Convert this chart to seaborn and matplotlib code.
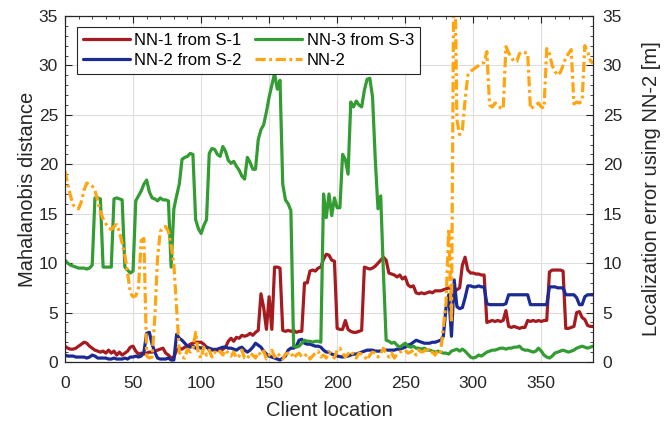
import matplotlib
matplotlib.use("Agg")
import matplotlib.pyplot as plt
import seaborn as sns
import pandas as pd
from matplotlib.lines import Line2D
from matplotlib.ticker import MultipleLocator

# ---------------- data ----------------
client_location = list(range(0, 389, 2))

nn1_from_s1 = [
    1.6, 1.4, 1.3, 1.3, 1.4, 1.6, 1.8, 2.0, 1.9, 1.6,
    1.4, 1.2, 1.1, 1.0, 1.1, 0.9, 1.2, 0.9, 1.1, 0.7,
    1.0, 0.7, 0.9, 1.1, 1.5, 1.6, 1.1, 0.8, 0.9, 0.8,
    0.9, 1.0, 1.0, 1.1, 1.2, 1.3, 1.4, 0.9, 0.7, 0.4,
    0.5, 1.2, 1.4, 1.3, 1.5, 1.6, 1.8, 1.9, 2.0, 2.0,
    2.0, 1.8, 1.5, 1.3, 1.2, 1.3, 1.2, 1.1, 1.3, 1.5,
    2.1, 2.4, 2.1, 2.5, 2.4, 2.7, 2.6, 2.7, 2.9, 2.7,
    3.0, 3.2, 6.9, 5.5, 3.3, 6.6, 3.3, 9.6, 9.6, 9.5,
    3.2, 3.1, 3.2, 3.1, 3.2, 3.0, 3.1, 3.1, 8.0, 8.0,
    9.2, 9.3, 9.2, 9.5, 9.6, 10.4, 10.9, 10.8, 10.3, 10.2,
    3.4, 3.3, 3.3, 4.2, 3.3, 3.1, 3.0, 3.0, 3.1, 3.2,
    9.6, 9.5, 9.4, 9.5, 9.7, 10.0, 10.3, 10.6, 10.3, 9.0,
    8.9, 8.8, 8.6, 8.8, 8.4, 8.6, 7.8, 7.6, 7.7, 7.0,
    6.9, 7.0, 6.9, 7.0, 7.1, 7.0, 7.2, 7.2, 7.2, 7.3,
    7.4, 7.5, 7.4, 7.3, 7.3, 7.5, 9.8, 10.6, 9.3, 9.0,
    9.0, 8.9, 8.9, 8.8, 8.8, 4.0, 4.1, 4.2, 4.1, 4.2,
    4.1, 4.2, 5.2, 3.6, 3.5, 3.6, 3.5, 3.4, 3.5, 3.5,
    4.2, 4.1, 4.2, 4.1, 4.2, 4.1, 4.2, 4.2, 9.1, 9.3,
    9.3, 9.3, 9.3, 9.2, 3.4, 3.4, 3.5, 3.6, 5.0, 5.1,
    4.5, 4.3, 3.7, 3.6, 3.6,
]

nn2_from_s2 = [
    0.7, 0.6, 0.6, 0.6, 0.5, 0.5, 0.5, 0.5, 0.4, 0.5,
    0.7, 0.6, 0.4, 0.4, 0.4, 0.4, 0.3, 0.3, 0.4, 0.3,
    0.3, 0.3, 0.4, 0.3, 0.5, 0.5, 0.6, 0.5, 0.6, 1.0,
    2.9, 3.0, 1.8, 1.0, 0.4, 0.3, 0.3, 0.3, 0.4, 0.2,
    0.2, 2.8, 2.4, 2.2, 1.9, 1.6, 1.5, 1.6, 1.4, 1.5,
    1.4, 1.5, 1.5, 1.4, 1.3, 1.2, 1.3, 1.4, 1.5, 1.5,
    1.4, 1.4, 1.3, 1.2, 1.4, 1.5, 1.2, 1.0, 1.2, 1.5,
    1.9, 1.7, 1.5, 1.1, 0.8, 0.6, 0.5, 0.4, 0.3, 0.2,
    0.4, 0.6, 1.2, 1.4, 1.4, 1.6, 2.2, 2.3, 1.9, 1.8,
    1.8, 1.7, 1.6, 1.6, 1.5, 1.2, 1.0, 1.0, 0.8, 0.7,
    0.6, 0.55, 0.5, 0.55, 0.6, 0.7, 0.8, 0.8, 0.9, 1.0,
    1.1, 1.2, 1.2, 1.2, 1.1, 1.1, 1.1, 1.2, 1.2, 1.2,
    1.2, 1.2, 1.3, 1.3, 1.4, 1.5, 1.7, 1.8, 2.0, 2.2,
    2.1, 2.0, 1.9, 1.9, 1.9, 2.0, 2.0, 2.1, 2.2, 2.6,
    5.5, 6.8, 2.6, 8.3, 5.6, 5.4, 5.5, 6.5, 7.7, 7.7,
    7.6, 7.6, 7.7, 7.6, 7.6, 5.9, 5.8, 5.8, 5.8, 5.8,
    5.8, 5.8, 5.9, 6.8, 6.8, 6.8, 6.8, 6.8, 6.8, 6.8,
    6.8, 5.8, 5.8, 5.8, 5.8, 5.8, 5.8, 5.8, 7.6, 7.6,
    7.6, 7.5, 7.5, 7.5, 6.8, 6.8, 6.8, 6.8, 6.5, 5.8,
    5.8, 6.6, 6.8, 6.8, 6.8,
]

nn3_from_s3 = [
    10.3, 10.0, 9.8, 9.7, 9.6, 9.5, 9.5, 9.5, 9.4, 9.5,
    9.8, 16.6, 16.6, 16.5, 9.6, 9.6, 9.6, 9.6, 16.5, 16.6,
    16.5, 16.4, 9.6, 9.3, 9.0, 9.2, 16.3, 16.8, 17.3, 18.0,
    18.4, 17.2, 16.6, 16.5, 16.3, 16.6, 16.4, 16.4, 16.3, 9.6,
    15.5, 16.8, 18.0, 20.5, 20.7, 20.8, 21.1, 21.0, 14.4, 13.5,
    13.0, 13.8, 14.4, 21.1, 21.6, 21.5, 21.0, 20.8, 21.8, 21.3,
    20.4, 20.1, 20.3, 19.8, 19.4, 18.8, 18.5, 20.7, 20.2, 19.5,
    19.5, 22.5, 23.5, 24.0, 25.3, 26.8, 28.0, 29.2, 27.6, 28.5,
    18.0, 16.4, 16.0, 15.3, 1.6, 1.5, 1.6, 1.9, 2.2, 2.1,
    2.1, 2.0, 2.1, 2.1, 2.0, 17.0, 14.6, 17.0, 14.8, 16.6,
    15.6, 15.6, 21.0, 20.5, 19.0, 26.3, 25.8, 26.4, 26.0, 25.8,
    27.5, 28.6, 28.7, 26.8, 20.5, 15.5, 16.8, 9.0, 2.2, 2.1,
    1.9, 2.0, 1.7, 1.5, 1.7, 1.9, 1.6, 1.5, 1.6, 1.4,
    1.4, 1.3, 1.4, 1.2, 1.2, 1.1, 1.0, 1.1, 1.0, 0.9,
    0.9, 0.8, 1.1, 1.2, 1.3, 1.1, 1.3, 1.1, 0.8, 0.5,
    0.4, 0.5, 0.7, 0.6, 0.8, 1.0, 1.1, 1.2, 1.2, 1.3,
    1.4, 1.4, 1.3, 1.4, 1.4, 1.5, 1.5, 1.6, 1.3, 1.2,
    1.2, 1.1, 1.0, 1.1, 1.4, 1.1, 0.7, 0.5, 0.4, 0.6,
    0.9, 1.0, 1.1, 1.2, 1.1, 1.0, 1.1, 1.2, 1.4, 1.5,
    1.6, 1.5, 1.4, 1.5, 1.6,
]

nn2_error = [
    19.3, 18.0, 16.8, 15.9, 15.6, 15.5, 16.2, 17.4, 18.1, 18.0,
    17.8, 17.4, 16.3, 15.2, 14.5, 14.0, 13.6, 13.4, 13.7, 13.9,
    13.2, 12.0, 10.8, 9.0, 7.0, 6.6, 6.7, 7.5, 12.3, 12.5,
    0.6, 0.4, 0.5, 4.5, 10.5, 13.2, 13.6, 13.7, 13.2, 11.8,
    9.8, 5.5, 1.0, 0.5, 0.4, 1.3, 1.0, 1.4, 3.0, 0.8,
    0.4, 1.5, 0.7, 1.2, 0.5, 1.0, 0.8, 1.1, 0.7, 1.2,
    0.9, 0.6, 1.0, 0.4, 0.6, 1.2, 0.4, 0.3, 0.9, 0.7,
    0.4, 1.0, 0.7, 1.1, 0.3, 0.7, 1.2, 0.5, 0.9, 0.6,
    0.3, 0.8, 0.9, 1.0, 0.4, 0.7, 0.9, 0.5, 0.6, 0.8,
    0.3, 0.6, 0.9, 1.1, 0.5, 0.7, 0.4, 1.0, 0.8, 0.4,
    1.2, 1.4, 0.9, 0.5, 0.8, 1.1, 0.7, 0.4, 0.9, 0.8,
    0.6, 0.2, 0.7, 1.0, 0.9, 0.5, 0.8, 1.4, 0.9, 0.5,
    0.9, 0.4, 0.8, 1.0, 1.1, 1.2, 0.9, 1.0, 1.2, 0.7,
    1.2, 1.0, 1.1, 1.5, 0.9, 1.0, 0.7, 1.2, 1.0, 3.5,
    6.0, 13.5, 4.0, 45.0, 24.5, 23.0, 23.5, 26.5, 29.0, 29.4,
    29.6, 29.8, 30.0, 30.2, 30.3, 31.4, 26.0, 25.8, 26.2, 26.0,
    25.7, 25.6, 31.9, 31.3, 30.8, 30.4, 30.4, 31.2, 31.4, 31.3,
    31.2, 25.6, 25.8, 26.0, 26.2, 25.8, 25.7, 31.7, 31.2, 30.0,
    29.4, 29.0, 29.3, 30.0, 30.8, 31.2, 31.6, 26.1, 26.3, 26.2,
    26.4, 32.0, 31.4, 30.5, 30.2,
]

series_names = ["NN-1 from S-1", "NN-2 from S-2", "NN-3 from S-3"]
error_name = "NN-2"
x_ticks = [0, 50, 100, 150, 200, 250, 300, 350]
y_ticks = [0, 5, 10, 15, 20, 25, 30, 35]

RED = "#A51B1F"
BLUE = "#1C2A93"
GREEN = "#339C33"
ORANGE = "#FFA511"
TXT = "#262626"
LW = 2.3

# ---------------- style ----------------
sns.set_theme(style="white")
plt.rcParams["font.family"] = ["Liberation Sans", "DejaVu Sans"]
plt.rcParams["axes.edgecolor"] = TXT
plt.rcParams["axes.linewidth"] = 0.8

df = pd.DataFrame({
    "Client location": client_location * 3,
    "value": nn1_from_s1 + nn2_from_s2 + nn3_from_s3,
    "series": ([series_names[0]] * len(client_location)
               + [series_names[1]] * len(client_location)
               + [series_names[2]] * len(client_location)),
})

fig, ax = plt.subplots(figsize=(6.72, 4.22), dpi=100)
fig.subplots_adjust(left=65 / 672, right=593 / 672,
                    bottom=1 - 362 / 422, top=1 - 16 / 422)

sns.lineplot(data=df, x="Client location", y="value", hue="series",
             hue_order=series_names,
             palette={series_names[0]: RED, series_names[1]: BLUE,
                      series_names[2]: GREEN},
             linewidth=LW, estimator=None, errorbar=None,
             legend=False, ax=ax)

ax2 = ax.twinx()
sns.lineplot(x=client_location, y=nn2_error, color=ORANGE, linewidth=LW,
             estimator=None, errorbar=None, ax=ax2)
DASH = [3.2, 1.1, 0.9, 1.1]
for ln in ax2.lines:
    ln.set_dashes(DASH)

for a in (ax, ax2):
    a.set_xlim(0, 388)
    a.set_ylim(0, 35)
    a.set_yticks(y_ticks)
    a.yaxis.set_minor_locator(MultipleLocator(1))

ax.set_xticks(x_ticks)
ax.xaxis.set_minor_locator(MultipleLocator(10))
ax.grid(True, which="major", color="#dedede", linewidth=0.8)
ax.set_axisbelow(True)

ax.tick_params(axis="both", which="both", direction="in", top=True,
               right=False, colors=TXT, labelcolor=TXT, labelsize=12.5)
ax.tick_params(which="major", length=5, width=0.8)
ax.tick_params(which="minor", length=2.5, width=0.6)
ax.tick_params(axis="x", pad=10)
ax.tick_params(axis="y", pad=5)
ax2.tick_params(axis="y", which="both", direction="in", right=True,
                colors=TXT, labelcolor=TXT, labelsize=12.5, pad=7)
ax2.tick_params(which="major", length=5, width=0.8)
ax2.tick_params(which="minor", length=2.5, width=0.6)

ax.set_xlabel("Client location", fontsize=14.5, color=TXT, labelpad=7)
ax.set_ylabel("Mahalanobis distance", fontsize=14.5, color=TXT, labelpad=1)
ax2.set_ylabel("Localization error using NN-2 [m]", fontsize=14.5,
               color=TXT, labelpad=14)

handles = [Line2D([], [], color=RED, lw=LW),
           Line2D([], [], color=BLUE, lw=LW),
           Line2D([], [], color=GREEN, lw=LW),
           Line2D([], [], color=ORANGE, lw=LW, dashes=DASH)]
labels = [series_names[0], series_names[1], series_names[2], error_name]
leg = ax2.legend(handles, labels, ncol=2, loc="upper left",
                 bbox_to_anchor=((77 - 65) / 528, 1 - (27 - 16) / 346),
                 borderaxespad=0, frameon=True, fancybox=False,
                 framealpha=1, edgecolor=TXT, fontsize=12,
                 handlelength=2.8, handletextpad=0.3, columnspacing=0.8,
                 labelspacing=0.3, borderpad=0.35)
leg.get_frame().set_linewidth(0.8)
for t in leg.get_texts():
    t.set_color("black")

fig.savefig("out.png", dpi=100)
